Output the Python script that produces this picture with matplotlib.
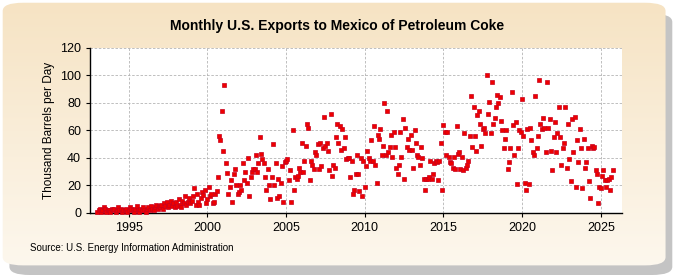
#!/usr/bin/env python3
# -*- coding: utf-8 -*-
"""Monthly U.S. exports to Mexico of petroleum coke, scatter of monthly values."""
import numpy as np
import matplotlib
matplotlib.use("Agg")
from matplotlib import pyplot as plt
from matplotlib.patches import FancyBboxPatch

# ------------------------------------------------------------------------------
#  Data (thousand barrels per day), one list per year, Jan..Dec
# ------------------------------------------------------------------------------
first_year = 1993
v1993 = [1, 2, 3, 1, 2, 4, 3, 1, 2, 2, 1, 3]
v1994 = [2, 3, 1, 2, 4, 2, 3, 1, 2, 2, 3, 1]
v1995 = [2, 4, 3, 2, 1, 3, 5, 2, 1, 3, 2, 4]
v1996 = [2, 1, 3, 4, 2, 5, 3, 2, 4, 6, 3, 5]
v1997 = [4, 6, 3, 7, 5, 8, 4, 6, 9, 5, 7, 4]
v1998 = [8, 5, 10, 6, 4, 9, 7, 12, 6, 8, 11, 7]
v1999 = [9, 12, 18, 6, 14, 8, 6, 11, 15, 13, 17, 7]
v2000 = [10, 19, 12, 14, 7, 8, 14, 16, 26, 56, 53, 74]
v2001 = [45, 93, 36, 29, 14, 19, 24, 8, 28, 32, 20, 14]
v2002 = [15, 20, 17, 36, 24, 30, 22, 40, 12, 26, 30, 32]
v2003 = [32, 42, 30, 36, 55, 43, 39, 36, 26, 17, 32, 20]
v2004 = [10, 26, 50, 20, 36, 11, 25, 12, 22, 34, 8, 37]
v2005 = [38, 39, 24, 31, 8, 60, 17, 26, 25, 27, 33, 30]
v2006 = [51, 30, 38, 49, 65, 62, 24, 38, 35, 32, 44, 42]
v2007 = [50, 32, 51, 34, 47, 70, 49, 51, 45, 31, 72, 27]
v2008 = [35, 33, 55, 65, 51, 63, 46, 61, 47, 55, 39, 40]
v2009 = [40, 26, 38, 14, 17, 28, 42, 28, 16, 40, 12, 38]
v2010 = [19, 34, 45, 40, 38, 53, 38, 63, 35, 22, 57, 54]
v2011 = [61, 42, 49, 80, 42, 74, 44, 48, 57, 41, 59, 48]
v2012 = [33, 28, 35, 59, 41, 68, 25, 62, 48, 54, 46, 57]
v2013 = [46, 33, 60, 51, 42, 41, 35, 48, 40, 25, 17, 25]
v2014 = [25, 26, 38, 25, 28, 36, 38, 37, 24, 38, 51, 17]
v2015 = [64, 59, 42, 59, 41, 37, 36, 33, 41, 32, 63, 43]
v2016 = [44, 32, 41, 31, 58, 33, 35, 38, 56, 85, 48, 77]
v2017 = [56, 45, 71, 74, 65, 49, 61, 62, 58, 100, 72, 81]
v2018 = [58, 95, 65, 69, 77, 86, 80, 84, 67, 60, 47, 54]
v2019 = [60, 32, 37, 47, 88, 64, 42, 66, 21, 47, 60, 59]
v2020 = [83, 56, 22, 17, 61, 21, 62, 53, 44, 42, 85, 47]
v2021 = [56, 97, 65, 61, 69, 62, 44, 95, 62, 68, 45, 31]
v2022 = [55, 66, 44, 58, 77, 55, 35, 47, 51, 77, 33, 65]
v2023 = [39, 23, 68, 44, 70, 19, 53, 37, 61, 47, 18, 54]
v2024 = [33, 37, 47, 23, 11, 49, 47, 48, 31, 28, 7, 19]
v2025 = [18, 27, 31, 24, 19, 24, 25, 17, 26, 31]

yearly = [v1993, v1994, v1995, v1996, v1997, v1998, v1999, v2000, v2001,
          v2002, v2003, v2004, v2005, v2006, v2007, v2008, v2009, v2010,
          v2011, v2012, v2013, v2014, v2015, v2016, v2017, v2018, v2019,
          v2020, v2021, v2022, v2023, v2024, v2025]

x_ticks = [1995, 2000, 2005, 2010, 2015, 2020, 2025]
y_ticks = [0, 20, 40, 60, 80, 100, 120]

title = "Monthly U.S. Exports to Mexico of Petroleum Coke"
y_label = "Thousand Barrels per Day"
source = "Source: U.S. Energy Information Administration"

# Flatten into a monthly timeseries
values = np.concatenate([np.asarray(v, dtype=float) for v in yearly])
t = first_year + np.arange(values.size) / 12.0

# ------------------------------------------------------------------------------
#  Figure
# ------------------------------------------------------------------------------
plt.rcParams["font.family"] = ["Liberation Sans Narrow", "Liberation Sans",
                               "DejaVu Sans"]

fig = plt.figure(figsize=(6.75, 2.75), dpi=100)
fig.patch.set_facecolor("white")

# Background axes: shadow (bottom-right) then rounded panel with gradient
bg_ax = fig.add_axes([0, 0, 1, 1], zorder=0)
bg_ax.set_axis_off()
bg_ax.set_xlim(0, 1)
bg_ax.set_ylim(0, 1)

shadow = FancyBboxPatch((0.014, 0.0), 0.982, 0.95,
                        boxstyle="round,pad=0,rounding_size=0.03",
                        transform=fig.transFigure, facecolor="#c4c4c4",
                        edgecolor="none", zorder=0)
bg_ax.add_patch(shadow)

panel = FancyBboxPatch((0.004, 0.035), 0.982, 0.955,
                       boxstyle="round,pad=0,rounding_size=0.03",
                       transform=fig.transFigure, facecolor="none",
                       edgecolor="none", zorder=1)
bg_ax.add_patch(panel)
grad = np.linspace(0, 1, 256).reshape(-1, 1)
top_col = np.array([0.965, 0.890, 0.765])
bot_col = np.array([0.992, 0.973, 0.937])
img = top_col[None, None, :] * (1 - grad[..., None]) + \
    bot_col[None, None, :] * grad[..., None]
im = bg_ax.imshow(img, extent=[0, 1, 0, 1], aspect="auto",
                  transform=fig.transFigure, zorder=2)
im.set_clip_path(panel)

ax = fig.add_axes([0.1335, 0.2255, 0.788, 0.60], zorder=2)
ax.set_facecolor("white")

ax.plot(t, values, linestyle="none", marker="s", markersize=3.0,
        markerfacecolor="#ee0000", markeredgecolor="#c8001c",
        markeredgewidth=0.5, zorder=3, clip_on=False)

ax.set_xlim(1992.55, 2026.35)
ax.set_ylim(0, 120)
ax.set_xticks(x_ticks)
ax.set_yticks(y_ticks)
ax.tick_params(axis="both", labelsize=9, length=3, color="black")

ax.grid(True, color="#b4b4b4", linestyle=(0, (3, 2)), linewidth=0.6)
ax.set_axisbelow(True)
for side in ("top", "right"):
    ax.spines[side].set_visible(False)
for side in ("left", "bottom"):
    ax.spines[side].set_linewidth(1.0)

ax.set_ylabel(y_label, fontsize=8.5)
fig.text(0.5, 0.905, title, ha="center", va="center", fontsize=10,
         fontweight="bold")
fig.text(0.044, 0.098, source, ha="left", va="center", fontsize=7)

fig.savefig("out.png", dpi=100)
